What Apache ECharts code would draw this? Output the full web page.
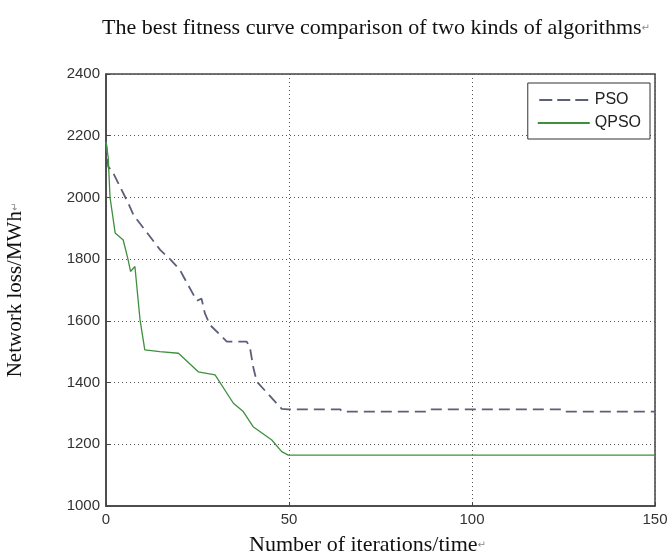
<!DOCTYPE html>
<html>
<head>
<meta charset="utf-8">
<script src="https://cdn.jsdelivr.net/npm/echarts@6/dist/echarts.min.js"></script>
<style>
  html, body { margin: 0; padding: 0; background: #fff; }
  #chart { width: 671px; height: 559px; }
</style>
</head>
<body>
<div id="chart"></div>
<script>
// iterations and network loss
const psoIter = [0, 0.6, 1.8, 6.1, 7.5, 14.8, 17.5, 20.2, 21.2, 24.8, 26.1, 27, 28.4, 33, 38.4, 39.3, 40.2, 41.2, 48, 49.8, 64, 64.5, 88, 88.5, 124.5, 125, 150];
const psoLoss = [2180, 2100, 2083, 1981, 1943, 1830, 1800, 1765, 1743, 1665, 1672, 1625, 1587, 1533, 1533, 1516, 1451, 1403, 1315, 1313, 1313, 1306, 1306, 1313, 1313, 1306, 1306];

const qpsoIter = [0, 0.6, 1.1, 2.5, 4.7, 6, 6.7, 7.9, 9.3, 10.6, 14.7, 19.8, 25.2, 29.8, 34.8, 37.5, 40.2, 45.3, 48, 49.8, 150];
const qpsoLoss = [2180, 2130, 2000, 1885, 1862, 1800, 1760, 1776, 1603, 1506, 1500, 1495, 1435, 1425, 1333, 1306, 1257, 1214, 1176, 1165, 1165];

const xTicks = [0, 50, 100, 150];
const yTicks = [1000, 1200, 1400, 1600, 1800, 2000, 2200, 2400];

function pairs(xs, ys) {
  return xs.map((x, i) => [x, ys[i]]);
}

// small return mark after the word-processor texts
const arrowRich = { r: { fontFamily: "DejaVu Sans", fontSize: 10, color: "#888" } };

const chart = echarts.init(document.getElementById("chart"));
chart.setOption({
  animation: false,
  backgroundColor: "#fff",
  title: {
    text: "The best fitness curve comparison of two kinds of algorithms{r|\u21b5}",
    left: 371,
    textAlign: "center",
    top: 12,
    textStyle: {
      fontFamily: "Liberation Serif",
      fontWeight: "normal",
      fontSize: 22,
      color: "#111",
      rich: arrowRich
    }
  },
  legend: {
    orient: "vertical",
    right: 21,
    top: 83,
    itemWidth: 52,
    itemHeight: 2,
    itemGap: 7,
    padding: [9, 9, 8, 10],
    borderColor: "#333",
    borderWidth: 1,
    backgroundColor: "#fff",
    textStyle: {
      fontFamily: "Liberation Sans",
      fontSize: 16,
      color: "#222"
    },
    data: [
      { name: "PSO", icon: "path://M0,0h13v2h-13z M18,0h13v2h-13z M36,0h13v2h-13z" },
      { name: "QPSO", icon: "path://M0,0h52v2h-52z" }
    ]
  },
  grid: {
    left: 106,
    right: 16,
    top: 74,
    bottom: 53,
    outerBoundsMode: "none",
    containLabel: false,
    show: true,
    borderColor: "#444",
    borderWidth: 1.5
  },
  xAxis: {
    type: "value",
    min: 0,
    max: 150,
    interval: 50,
    name: "Number of iterations/time{r|\u21b5}",
    nameLocation: "middle",
    nameGap: 28,
    nameTextStyle: {
      fontFamily: "Liberation Serif",
      fontSize: 22,
      color: "#111",
      padding: [0, 26, 0, 0],
      rich: arrowRich
    },
    axisLine: { lineStyle: { color: "#444", width: 1.5 } },
    axisTick: { inside: true, length: 4, lineStyle: { color: "#444" } },
    axisLabel: {
      margin: 6,
      fontFamily: "Liberation Sans",
      fontSize: 15,
      color: "#333",
      formatter: v => String(v),
      customValues: xTicks
    },
    splitLine: { show: true, lineStyle: { type: [1, 3], color: "#555", width: 1 } }
  },
  yAxis: {
    type: "value",
    min: 1000,
    max: 2400,
    interval: 200,
    name: "Network loss/MWh{r|\u21b5}",
    nameLocation: "middle",
    nameGap: 80,
    nameTextStyle: {
      fontFamily: "Liberation Serif",
      fontSize: 21,
      color: "#111",
      rich: arrowRich
    },
    axisLine: { show: true, lineStyle: { color: "#444", width: 1.5 } },
    axisTick: { show: true, inside: true, length: 4, lineStyle: { color: "#444" } },
    axisLabel: {
      margin: 6,
      fontFamily: "Liberation Sans",
      fontSize: 15,
      color: "#333",
      formatter: v => String(v),
      customValues: yTicks
    },
    splitLine: { show: true, lineStyle: { type: [1, 3], color: "#555", width: 1 } }
  },
  series: [
    {
      name: "PSO",
      type: "line",
      data: pairs(psoIter, psoLoss),
      showSymbol: false,
      symbol: "none",
      lineStyle: { color: "#5c5f7a", width: 1.8, type: [11, 6] },
      itemStyle: { color: "#5c5f7a" }
    },
    {
      name: "QPSO",
      type: "line",
      data: pairs(qpsoIter, qpsoLoss),
      showSymbol: false,
      symbol: "none",
      lineStyle: { color: "#3f8f3f", width: 1.3 },
      itemStyle: { color: "#3f8f3f" }
    }
  ]
});
</script>
</body>
</html>
